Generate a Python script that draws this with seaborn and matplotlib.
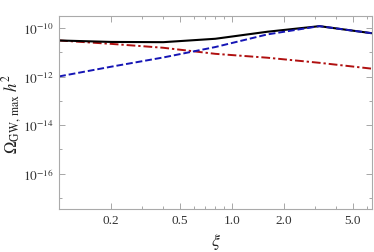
"""Peak GW amplitude vs xi"""
import numpy as np
import pandas as pd
import seaborn as sns
import matplotlib
matplotlib.use('Agg')
import matplotlib.pyplot as plt
from matplotlib.ticker import FixedLocator, FixedFormatter, LogLocator, NullFormatter

xi = [0.1, 0.2, 0.4, 0.8, 1.6, 3.2, 6.4]
# log10 of Omega_GW h^2
total = [-10.51, -10.57, -10.58, -10.44, -10.15, -9.92, -10.21]
blue = [-11.99, -11.59, -11.21, -10.78, -10.26, -9.92, -10.21]
red = [-10.51, -10.65, -10.81, -11.06, -11.22, -11.43, -11.67]

xticks = [0.2, 0.5, 1.0, 2.0, 5.0]
xticklabels = ['0.2', '0.5', '1.0', '2.0', '5.0']
yticks = [1e-16, 1e-14, 1e-12, 1e-10]
yticklabels = [r'$10^{-16}$', r'$10^{-14}$', r'$10^{-12}$', r'$10^{-10}$']

df = pd.DataFrame({
    'xi': xi * 3,
    'omega': list(10.0 ** np.array(total)) + list(10.0 ** np.array(blue)) + list(10.0 ** np.array(red)),
    'curve': ['total'] * 7 + ['blue'] * 7 + ['red'] * 7,
})

sns.set_style('ticks')
plt.rcParams['font.family'] = ['Liberation Serif', 'DejaVu Serif']
plt.rcParams['mathtext.fontset'] = 'stix'

fig = plt.figure(figsize=(3.74, 2.53), dpi=100)
ax = fig.add_axes([0.158, 0.17, 0.837, 0.763])

sns.lineplot(data=df[df.curve == 'red'], x='xi', y='omega', ax=ax,
             color='#b01010', lw=1.4)
ax.lines[-1].set_dashes([4.5, 1.5, 1.2, 1.5])
sns.lineplot(data=df[df.curve == 'total'], x='xi', y='omega', ax=ax,
             color='black', lw=1.5)
sns.lineplot(data=df[df.curve == 'blue'], x='xi', y='omega', ax=ax,
             color='#1515b5', lw=1.4)
ax.lines[-1].set_dashes([3.5, 1.5])

ax.set_xscale('log')
ax.set_yscale('log')
ax.set_xlim(0.1, 6.45)
ax.set_ylim(10 ** -17.45, 10 ** -9.5)

ax.xaxis.set_major_locator(FixedLocator(xticks))
ax.xaxis.set_major_formatter(FixedFormatter(xticklabels))
ax.xaxis.set_minor_locator(LogLocator(base=10, subs=np.arange(1, 10) * 1.0, numticks=20))
ax.xaxis.set_minor_formatter(NullFormatter())
ax.yaxis.set_major_locator(FixedLocator(yticks))
ax.yaxis.set_major_formatter(FixedFormatter(yticklabels))
ax.yaxis.set_minor_locator(LogLocator(base=10, subs=(1.0,), numticks=30))
ax.yaxis.set_minor_formatter(NullFormatter())

ax.tick_params(which='both', direction='in', top=True, right=True, colors='#999999',
               labelcolor='#333333', labelsize=9.5, width=0.6)
ax.tick_params(which='major', length=4)
ax.tick_params(which='minor', length=2)
for s in ax.spines.values():
    s.set_color('#aaaaaa')
    s.set_linewidth(0.8)

ax.set_xlabel(r'$\xi$', fontsize=13, color='#222222', va='center')
ax.xaxis.set_label_coords(0.5, -0.165)
ax.set_ylabel(r'$\Omega_{\mathrm{GW,\,max}}\;h^2$', fontsize=12, color='#222222', va='center')
ax.yaxis.set_label_coords(-0.15, 0.5)

plt.savefig('out.png', dpi=100)
